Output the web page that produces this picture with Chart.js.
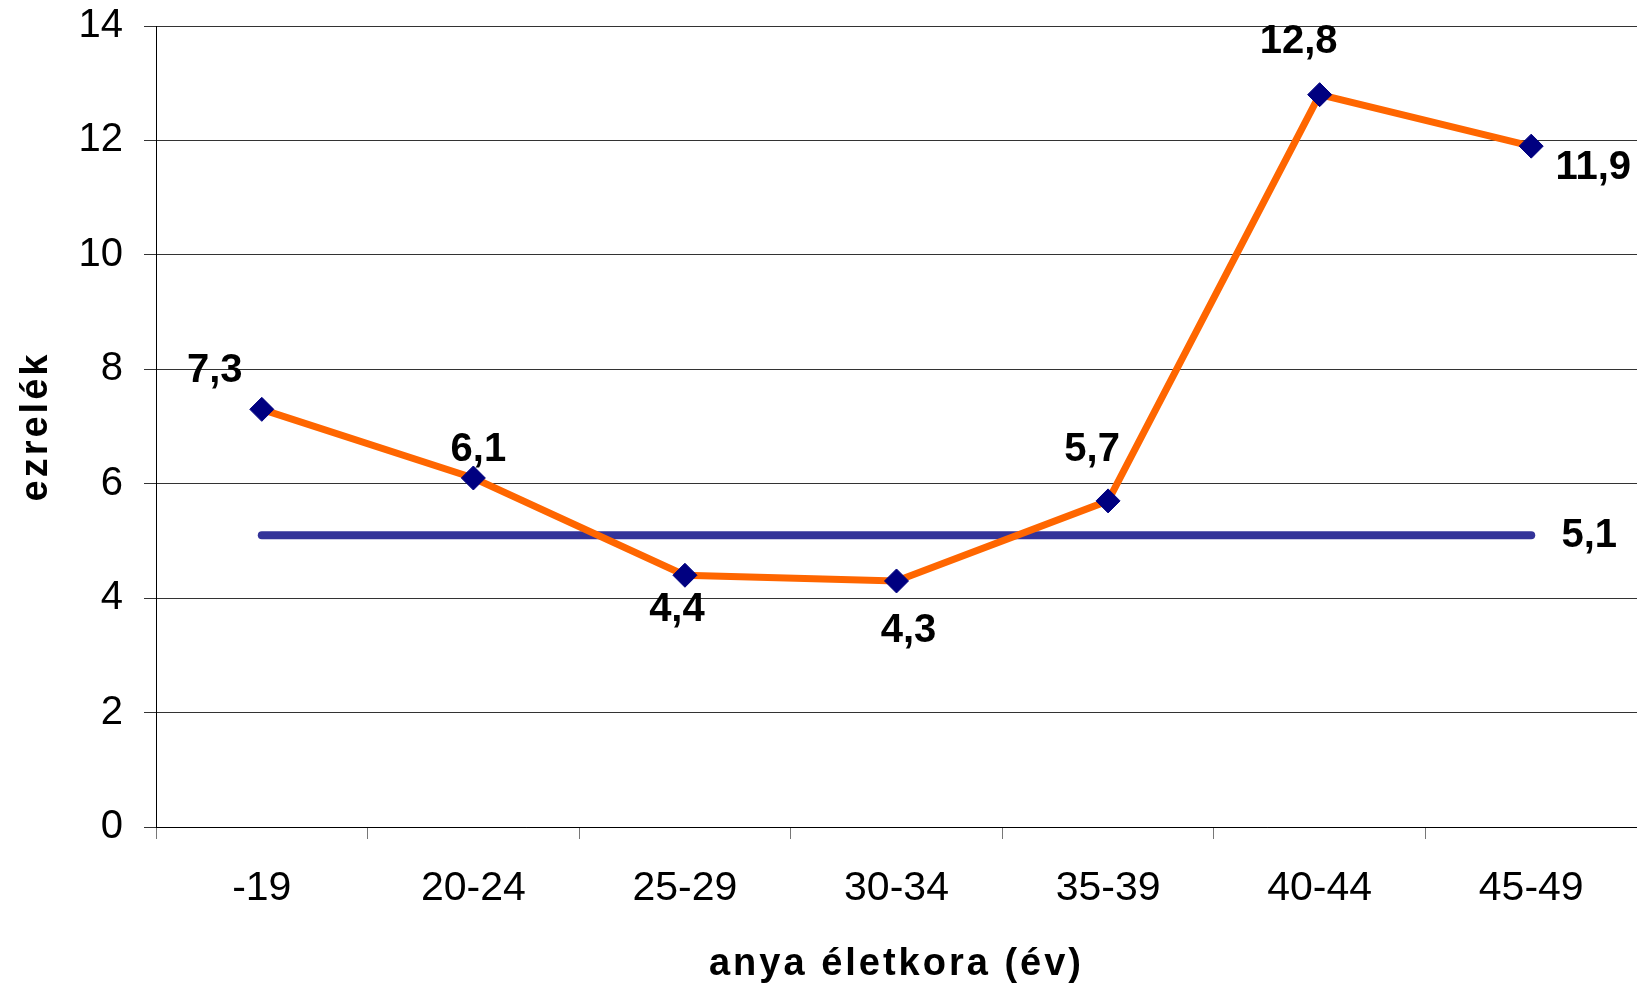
<!DOCTYPE html>
<html>
<head>
<meta charset="utf-8">
<script src="https://cdn.jsdelivr.net/npm/chart.js@4"></script>
<style>
  html, body { margin: 0; padding: 0; background: #fff; }
</style>
</head>
<body>
<canvas id="chart" width="1637" height="985"></canvas>
<script>
// korcsoportok (x tengely)
const categories = ['-19', '20-24', '25-29', '30-34', '35-39', '40-44', '45-49'];
// ezrelék korcsoportonként
const rates = [7.3, 6.1, 4.4, 4.3, 5.7, 12.8, 11.9];
// átlag vonal
const average = [5.1, 5.1, 5.1, 5.1, 5.1, 5.1, 5.1];
// y tengely
const yTicks = [0, 2, 4, 6, 8, 10, 12, 14];

// címkék eltolása a pontokhoz képest (px)
const rateLabelOffsets = [[-47, -38], [5, -28], [-8, 35], [12, 50], [-16, -51], [-21, -53], [62, 22]];
const avgLabelOffset = [58, 1];

const fmt = v => v.toFixed(1).replace('.', ',');

// értékcímkék kirajzolása
const valueLabels = {
    id: 'valueLabels',
    beforeDraw(chart) {
        // tengelycímek ritkított betűközzel
        chart.ctx.letterSpacing = '3px';
    },
    beforeDatasetsDraw(chart) {
        chart.ctx.letterSpacing = '0px';
    },
    afterDatasetsDraw(chart) {
        const ctx = chart.ctx;
        ctx.save();
        ctx.font = 'bold 40px "Liberation Sans", Arial, sans-serif';
        ctx.fillStyle = '#000';
        ctx.textAlign = 'center';
        ctx.textBaseline = 'middle';
        chart.getDatasetMeta(1).data.forEach((pt, i) => {
            const o = rateLabelOffsets[i];
            ctx.fillText(fmt(rates[i]), pt.x + o[0], pt.y + o[1]);
        });
        const avgPts = chart.getDatasetMeta(0).data;
        const last = avgPts[avgPts.length - 1];
        ctx.fillText(fmt(average[average.length - 1]), last.x + avgLabelOffset[0], last.y + avgLabelOffset[1]);
        ctx.restore();
    }
};

let ctx = document.getElementById('chart');

let chart = new Chart(ctx, {
    type: 'line',
    data: {
        labels: categories,
        datasets: [{
            label: 'átlag',
            data: average,
            borderColor: '#333399',
            borderWidth: 8,
            borderCapStyle: 'round',
            pointRadius: 0,
            order: 2
        },
        {
            label: 'ezrelék',
            data: rates,
            borderColor: '#FF6600',
            borderWidth: 7,
            pointStyle: 'rectRot',
            pointRadius: 12,
            pointBackgroundColor: '#000080',
            pointBorderColor: '#000080',
            pointBorderWidth: 1,
            order: 1
        }]
    },
    options: {
        responsive: false,
        animation: false,
        layout: {
            autoPadding: false,
            padding: { top: 26, right: 0, left: 0, bottom: 0 }
        },
        plugins: {
            legend: { display: false },
            tooltip: { enabled: false }
        },
        scales: {
            x: {
                offset: true,
                afterFit: scale => {
                    scale.height = 158;
                    scale.paddingLeft = 0;
                    scale.paddingRight = 0;
                },
                grid: {
                    offset: true,
                    drawOnChartArea: false,
                    drawTicks: true,
                    tickLength: 12,
                    color: '#777'
                },
                border: { color: '#000', width: 1 },
                ticks: {
                    z: 1,
                    color: '#000',
                    padding: 25,
                    font: { family: '"Liberation Sans", Arial, sans-serif', size: 41 }
                },
                title: {
                    display: true,
                    text: 'anya életkora (év)',
                    color: '#000',
                    padding: { top: 0, bottom: -2 },
                    font: { family: '"Liberation Sans", Arial, sans-serif', size: 38, weight: 'bold' }
                }
            },
            y: {
                min: 0,
                max: 14,
                afterFit: scale => {
                    scale.width = 156;
                    scale.paddingTop = 0;
                    scale.paddingBottom = 0;
                },
                afterBuildTicks: scale => {
                    scale.ticks = yTicks.map(v => ({ value: v }));
                },
                grid: {
                    color: '#333',
                    tickLength: 12,
                    drawTicks: true
                },
                border: { color: '#000', width: 1 },
                ticks: {
                    z: 1,
                    color: '#000',
                    padding: 21,
                    font: { family: '"Liberation Sans", Arial, sans-serif', size: 40 }
                },
                title: {
                    display: true,
                    text: 'ezrelék',
                    color: '#000',
                    padding: { top: 14, bottom: 0 },
                    font: { family: '"Liberation Sans", Arial, sans-serif', size: 38, weight: 'bold' }
                }
            }
        }
    },
    plugins: [valueLabels]
});
</script>
</body>
</html>
